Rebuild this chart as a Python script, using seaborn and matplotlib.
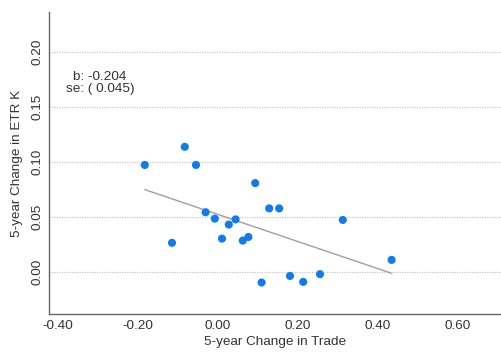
import matplotlib
matplotlib.use("Agg")
import matplotlib.pyplot as plt
import seaborn as sns
import numpy as np
import pandas as pd

# Werte
trade_change = [-0.183, -0.083, -0.055, -0.115, -0.031, -0.008, 0.010, 0.027, 0.044,
                0.062, 0.076, 0.093, 0.128, 0.153, 0.312, 0.434, 0.109, 0.180, 0.213, 0.255]
etr_change = [0.0975, 0.114, 0.0975, 0.0267, 0.0545, 0.0487, 0.0305, 0.0433, 0.048,
              0.0287, 0.032, 0.081, 0.058, 0.058, 0.0475, 0.0112, -0.0094, -0.0034, -0.0088, -0.0018]
# Gerade wie im Bild
fit_slope = -0.1233
fit_intercept = 0.0525
x_ticks = [-0.40, -0.20, 0.00, 0.20, 0.40, 0.60]
y_ticks = [0.00, 0.05, 0.10, 0.15, 0.20]
coef_text = "b: -0.204\nse: ( 0.045)"

df = pd.DataFrame({"trade": trade_change, "etr": etr_change})
fit_x = np.array([min(trade_change), max(trade_change)])
fit_df = pd.DataFrame({"trade": fit_x, "etr": fit_intercept + fit_slope * fit_x})

sns.set_style("white")
plt.rcParams['font.family'] = ['Liberation Sans', 'DejaVu Sans']

fig = plt.figure(figsize=(5.02, 3.52), dpi=100)
ax = fig.add_axes([0.0976, 0.108, 0.9024, 0.858])

# Regressionsgerade
sns.lineplot(data=fit_df, x="trade", y="etr", color="#a0a0a0", lw=1.0, ax=ax)

sns.scatterplot(data=df, x="trade", y="etr", color="#0f7bec", s=34,
                edgecolor="none", ax=ax, zorder=3)

ax.set_xlim(-0.4225, 0.71)
ax.set_ylim(-0.038, 0.2366)
ax.set_xticks(x_ticks)
ax.set_xticklabels([f"{v:.2f}" for v in x_ticks])
ax.set_yticks(y_ticks)
ax.set_yticklabels([f"{v:.2f}" for v in y_ticks], rotation=90, va="center")

ax.tick_params(axis="both", labelsize=9.7, colors="#333333", length=0, pad=4)
ax.yaxis.grid(True, linestyle=(0, (1, 1)), color="#c8c8c8", lw=0.9)
ax.xaxis.grid(False)

for s in ["top", "right"]:
    ax.spines[s].set_visible(False)
for s in ["left", "bottom"]:
    ax.spines[s].set_color("#666666")
    ax.spines[s].set_linewidth(1.0)

ax.set_xlabel("5-year Change in Trade", fontsize=9.7, color="#333333", labelpad=3)
ax.set_ylabel("5-year Change in ETR K", fontsize=9.7, color="#333333", labelpad=6)

ax.text(-0.295, 0.172, coef_text, ha="center", va="center", fontsize=9.7,
        color="#333333", linespacing=1.0)

fig.savefig("out.png", dpi=100)
plt.close()
